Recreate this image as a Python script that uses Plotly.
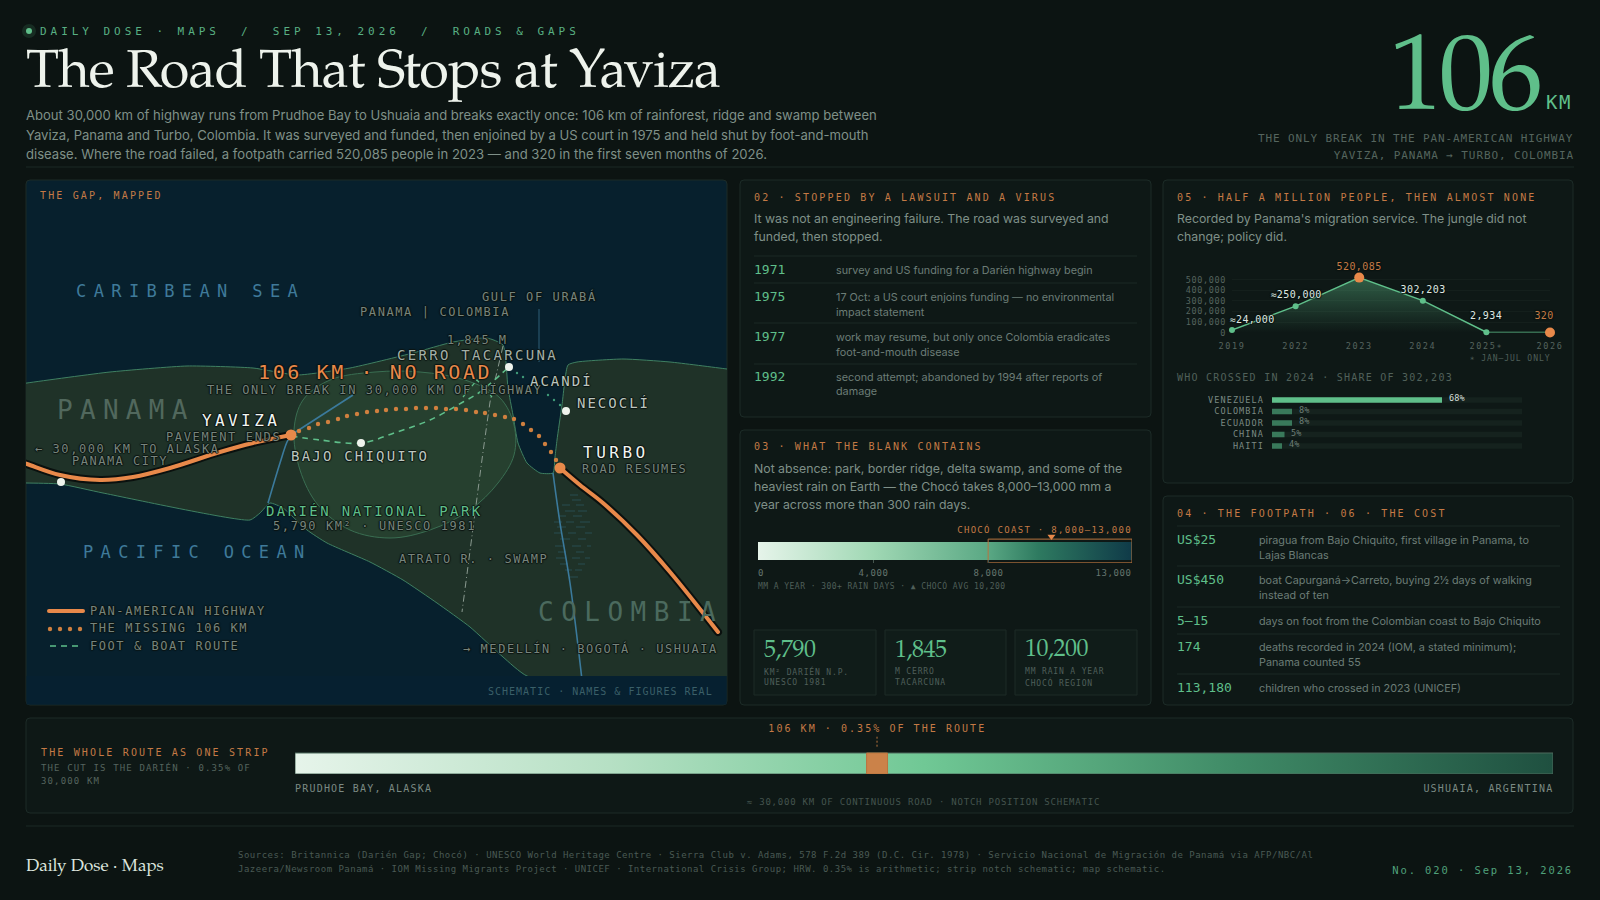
import json
import plotly.graph_objects as go

W, H = 1600, 900
MONO, SERIF, SANS = "DejaVu Sans Mono", "Palatino Linotype, Palatino, P052, TeX Gyre Pagella, URW Palladio L, Georgia, serif", "Inter"
BG, PANEL, EDGE, RULE = "#0c1412", "#0e1816", "#1c2b27", "#1a2824"
GREEN, ORANGE, DIMOR = "#5fbf8a", "#e8894a", "#c47a45"
OCEAN, LAND, PARK, COAST, RIVER = "#07202d", "#1f3228", "#26402f", "#3f8062", "#3b7a9c"
TXT, MUTED, DIM, FAINT = "#eef3ec", "#7f9088", "#6c7d76", "#4f5f59"

# ---------- data ----------
coast_x = [-30, 27, 110, 187, 253, 297, 350, 413, 453, 487, 503, 508, 513, 518, 527, 540, 553, 555, 557, 562, 568, 577, 623, 670, 727, 780,
           780, 527, 503, 470, 437, 403, 370, 327, 307, 283, 270, 260, 250, 103, 60, 27, -30]
coast_y = [392, 383, 372, 366, 368, 375, 368, 353, 342, 338, 345, 388, 415, 443, 463, 473, 473, 457, 440, 405, 365, 362, 359, 362, 369, 376,
           720, 676, 657, 627, 603, 580, 562, 543, 530, 508, 503, 513, 520, 493, 484, 483, 482]
park_x = [294, 303, 330, 375, 420, 465, 500, 514, 514, 498, 470, 430, 390, 350, 318, 300, 294]
park_y = [430, 400, 380, 372, 372, 380, 398, 425, 455, 483, 510, 530, 538, 530, 505, 470, 430]
highway_west_x = [10, 27, 60, 100, 133, 170, 220, 253, 291]
highway_west_y = [458, 464, 475, 480, 477, 468, 452, 443, 435]
highway_east_x = [560, 580, 603, 637, 670, 718]
highway_east_y = [468, 485, 503, 535, 572, 632]
missing_x = [299, 309, 318, 328, 338, 347, 357, 367, 377, 386, 396, 406, 416, 426, 436, 446, 456, 466, 476, 485, 495, 505, 514, 523, 531, 539, 545, 551, 556]
missing_y = [431, 428, 424, 422, 419, 416, 414, 412, 411, 410, 409, 409, 408, 408, 408, 409, 409, 410, 412, 413, 415, 417, 419, 424, 430, 436, 444, 452, 460]
route_x = [291, 320, 361, 397, 430, 463, 480, 500, 509]
route_y = [436, 440, 443, 432, 420, 402, 392, 375, 367]
peak_x = [463, 477, 492]
peak_y = [397, 380, 397]
boat_x = [509, 517, 523, 535, 548, 554, 560, 566]
boat_y = [367, 373, 377, 386, 395, 400, 405, 411]
border_x = [503, 498, 490, 483, 477, 470, 462]
border_y = [346, 367, 402, 452, 497, 547, 612]
gulf_x = [539, 539]
gulf_y = [309, 362]
river_n_x = [291, 353]
river_n_y = [435, 395]
river_s_x = [291, 287, 280, 268]
river_s_y = [435, 442, 463, 503]
atrato_x = [553, 560, 570, 582]
atrato_y = [473, 523, 583, 680]
swamp_start = [570, 572, 562, 576, 565, 578, 558, 573, 554, 566, 580, 557, 576, 554, 568, 585, 560, 578, 555, 572, 587, 558, 576, 556, 572, 585, 560, 578, 565, 575, 570]
swamp_end = [578, 581, 570, 584, 575, 587, 566, 582, 562, 574, 590, 566, 585, 562, 576, 592, 570, 586, 563, 581, 591, 566, 584, 565, 580, 590, 568, 585, 572, 582, 578]
swamp_row = [495, 500, 505, 505, 511, 511, 516, 516, 522, 522, 522, 527, 527, 533, 533, 533, 539, 539, 546, 546, 546, 552, 552, 558, 558, 558, 564, 564, 570, 570, 577]
towns_x = [61, 361, 509, 566]
towns_y = [482, 443, 367, 411]
ends_x = [291, 560]
ends_y = [435, 468]

rain_ticks = [0, 4000, 8000, 13000]
rain_tick_labels = ["0", "4,000", "8,000", "13,000"]
choco_range = [8000, 13000]
choco_avg = 10200

years = ["2019", "2022", "2023", "2024", "2025∗", "2026"]
crossings = [24000, 250000, 520085, 302203, 2934, 320]
crossing_labels = ["≈24,000", "≈250,000", "520,085", "302,203", "2,934", "320"]
crossing_ticks = [0, 100000, 200000, 300000, 400000, 500000]
crossing_ticktext = ["0", "100,000", "200,000", "300,000", "400,000", "500,000"]

nationalities = ["VENEZUELA", "COLOMBIA", "ECUADOR", "CHINA", "HAITI"]
shares = [68, 8, 8, 5, 4]

route_total_km = 30000
notch_km = [13630, 14130]

timeline_years = ["1971", "1975", "1977", "1992"]
timeline_text = [["survey and US funding for a Darién highway begin"],
                 ["17 Oct: a US court enjoins funding — no environmental", "impact statement"],
                 ["work may resume, but only once Colombia eradicates", "foot-and-mouth disease"],
                 ["second attempt; abandoned by 1994 after reports of", "damage"]]
cost_values = ["US$25", "US$450", "5–15", "174", "113,180"]
cost_text = [["piragua from Bajo Chiquito, first village in Panama, to", "Lajas Blancas"],
             ["boat Capurganá→Carreto, buying 2½ days of walking", "instead of ten"],
             ["days on foot from the Colombian coast to Bajo Chiquito"],
             ["deaths recorded in 2024 (IOM, a stated minimum);", "Panama counted 55"],
             ["children who crossed in 2023 (UNICEF)"]]
stat_values = ["5,790", "1,845", "10,200"]
stat_labels = [["KM² DARIÉN N.P.", "UNESCO 1981"], ["M CERRO", "TACARCUNA"], ["MM RAIN A YEAR", "CHOCÓ REGION"]]

# ---------- helpers ----------
anns, spacing, shapes, traces, axes = [], [], [], [], {}
SHADOW = "1px 0 1px #0c1412,-1px 0 1px #0c1412,0 1px 1px #0c1412,0 -1px 1px #0c1412"


def T(px, py, s, size, color, font=MONO, anchor="left", ls=0, halo=False, xref="paper"):
    f = dict(family=font, size=size, color=color)
    if halo:
        f["shadow"] = SHADOW
    anns.append(dict(xref=xref, yref="paper", x=px / W if xref == "paper" else px, y=1 - py / H, text=s,
                     showarrow=False, xanchor=anchor, yanchor="middle", align=anchor, font=f,
                     borderpad=0, borderwidth=0))
    spacing.append(ls)


def panel(x0, y0, x1, y1, fill=PANEL, edge=EDGE, r=4):
    fx, fy = (lambda v: v / W), (lambda v: 1 - v / H)
    p = (f"M{fx(x0+r)},{fy(y0)} L{fx(x1-r)},{fy(y0)} Q{fx(x1)},{fy(y0)} {fx(x1)},{fy(y0+r)} "
         f"L{fx(x1)},{fy(y1-r)} Q{fx(x1)},{fy(y1)} {fx(x1-r)},{fy(y1)} L{fx(x0+r)},{fy(y1)} "
         f"Q{fx(x0)},{fy(y1)} {fx(x0)},{fy(y1-r)} L{fx(x0)},{fy(y0+r)} Q{fx(x0)},{fy(y0)} {fx(x0+r)},{fy(y0)} Z")
    shapes.append(dict(type="path", path=p, xref="paper", yref="paper", fillcolor=fill,
                       line=dict(color=edge, width=1), layer="below"))


def hr(x0, x1, y, color=RULE):
    shapes.append(dict(type="line", xref="paper", yref="paper", x0=x0 / W, x1=x1 / W, y0=1 - y / H, y1=1 - y / H,
                       line=dict(color=color, width=1), layer="below"))


def add_axes(n, x0, x1, y0, y1, xr, yr, xopts=None, yopts=None):
    base = dict(showgrid=False, zeroline=False, showline=False, showticklabels=False, ticks="", fixedrange=True, automargin=False)
    sfx = "" if n == 1 else str(n)
    ax = dict(base, domain=[x0 / W, x1 / W], range=xr, anchor="y" + sfx)
    ay = dict(base, domain=[1 - y1 / H, 1 - y0 / H], range=yr, anchor="x" + sfx)
    ax.update(xopts or {})
    ay.update(yopts or {})
    axes["xaxis" + sfx], axes["yaxis" + sfx] = ax, ay
    return "x" + sfx, "y" + sfx


def S(x, y, ax, color=None, width=1, dash=None, mode="lines", shape="linear", smooth=None, **kw):
    line = dict(color=color, width=width, shape=shape)
    if dash:
        line["dash"] = dash
    if smooth is not None:
        line["smoothing"] = smooth
    traces.append(go.Scatter(x=x, y=y, xaxis=ax[0], yaxis=ax[1], mode=mode, line=line, hoverinfo="skip", showlegend=False, **kw))


# ---------- panels ----------
hr(26, 1574, 167)
hr(26, 1574, 826)
panel(26, 180, 727, 705, fill=OCEAN)
panel(740, 180, 1151, 417)
panel(740, 430, 1151, 705)
panel(1163, 180, 1573, 483)
panel(1163, 496, 1573, 705)
panel(26, 718, 1573, 813)
shapes.append(dict(type="rect", xref="paper", yref="paper", x0=26.5 / W, x1=726.5 / W, y0=1 - 704.5 / H, y1=1 - 676 / H,
                   fillcolor="#062030", line=dict(width=0), layer="below"))

# ---------- header ----------
shapes.append(dict(type="circle", xref="paper", yref="paper", x0=22 / W, x1=36 / W, y0=1 - 38 / H, y1=1 - 24 / H,
                   fillcolor="rgba(95,191,138,0.14)", line=dict(width=0), layer="below"))
shapes.append(dict(type="circle", xref="paper", yref="paper", x0=26 / W, x1=32 / W, y0=1 - 34 / H, y1=1 - 28 / H,
                   fillcolor=GREEN, line=dict(width=0), layer="below"))
T(40, 31, "DAILY DOSE · MAPS\u00a0\u00a0/\u00a0\u00a0SEP 13, 2026\u00a0\u00a0/\u00a0\u00a0ROADS & GAPS", 11, "#58b083", ls=3.96)
T(26, 74.5, "The Road That Stops at Yaviza", 54, TXT, SERIF, ls=-0.95)
for i, s, y in zip(range(3), ["About 30,000 km of highway runs from Prudhoe Bay to Ushuaia and breaks exactly once: 106 km of rainforest, ridge and swamp between",
                       "Yaviza, Panama and Turbo, Colombia. It was surveyed and funded, then enjoined by a US court in 1975 and held shut by foot-and-mouth",
                       "disease. Where the road failed, a footpath carried 520,085 people in 2023 — and 320 in the first seven months of 2026."], [115.5, 134.5, 154]):
    T(26, y, s, 13.08, MUTED, SANS)
T(1539, 84.5, "106", 108, GREEN, SERIF, "right", ls=-4)
T(1546, 102, "KM", 19, GREEN, MONO, ls=1.5)
T(1574, 138, "THE ONLY BREAK IN THE PAN-AMERICAN HIGHWAY", 11, "#55655e", anchor="right", ls=0.88)
T(1574, 155, "YAVIZA, PANAMA → TURBO, COLOMBIA", 11, "#55655e", anchor="right", ls=0.88)

# ---------- map ----------
mp = add_axes(1, 26, 727, 180, 676, [26, 727], [676, 180])
S(coast_x, coast_y, mp, COAST, 1, shape="spline", smooth=0.5, fill="toself", fillcolor=LAND)
S(park_x, park_y, mp, "#3a6e52", 1, shape="spline", smooth=1, fill="toself", fillcolor=PARK)
sw_x, sw_y = [], []
for a, b, r in zip(swamp_start, swamp_end, swamp_row):
    sw_x += [a, b, None]
    sw_y += [r, r, None]
S(sw_x, sw_y, mp, "rgba(59,122,156,0.36)", 1)
S(gulf_x, gulf_y, mp, "#2f5f78", 1)
S(river_n_x, river_n_y, mp, RIVER, 1.6)
S(river_s_x, river_s_y, mp, RIVER, 1.6, shape="spline")
S(atrato_x, atrato_y, mp, RIVER, 1.6, shape="spline")
S(border_x, border_y, mp, "#8a9a90", 1, dash="7px 3px 1px 3px")
S(peak_x, peak_y, mp, GREEN, 1.2, dash="4px 3px")
S(route_x, route_y, mp, GREEN, 1.6, dash="6px 5px", shape="spline")
S(boat_x, boat_y, mp, mode="markers", marker=dict(size=2.4, color="#3f9a78"))
S(missing_x, missing_y, mp, mode="markers", marker=dict(size=4.4, color="#d0803f"))
S(highway_west_x, highway_west_y, mp, "#0a100e", 8, shape="spline")
S(highway_east_x, highway_east_y, mp, "#0a100e", 8, shape="spline")
S(highway_west_x, highway_west_y, mp, ORANGE, 4, shape="spline")
S(highway_east_x, highway_east_y, mp, ORANGE, 4, shape="spline")
S(towns_x, towns_y, mp, mode="markers", marker=dict(size=8, color="#eef3ec"))
S(ends_x, ends_y, mp, mode="markers", marker=dict(size=11, color=ORANGE))
S([49, 83], [611, 611], mp, ORANGE, 4)
S([50, 60, 70, 80], [629, 629, 629, 629], mp, mode="markers", marker=dict(size=4.4, color="#d0803f"))
S([50, 82], [646, 646], mp, GREEN, 1.6, dash="6px 5px")

T(40, 196, "THE GAP, MAPPED", 10, DIMOR, ls=2.15)
T(76, 291, "CARIBBEAN SEA", 17, "#3f7a9a", ls=7.4)
T(83, 552, "PACIFIC OCEAN", 17, "#3f7a9a", ls=7.35)
T(57, 410, "PANAMA", 26, "#51685d", ls=7.3)
T(538, 612, "COLOMBIA", 26, "#4b6a5e", ls=7.5)
LBL = "#77847c"
T(482, 296, "GULF OF URABÁ", 12, LBL, ls=1.6, halo=True)
T(360, 312, "PANAMA | COLOMBIA", 12, LBL, ls=1.6, halo=True)
T(447, 340, "1,845 M", 12, LBL, ls=1.4, halo=True)
T(397, 355, "CERRO TACARCUNA", 14, "#a3afa7", ls=2.3, halo=True)
T(258, 372, "106 KM · NO ROAD", 20, ORANGE, ls=2.6, halo=True)
T(207, 390, "THE ONLY BREAK IN 30,000 KM OF HIGHWAY", 12, LBL, ls=1.6, halo=True)
T(530, 381, "ACANDÍ", 14, "#bcc6bf", ls=2, halo=True)
T(577, 403, "NECOCLÍ", 14, "#bcc6bf", ls=2, halo=True)
T(202, 420, "YAVIZA", 16, "#f2f6f1", ls=3.4, halo=True)
T(166, 437, "PAVEMENT ENDS", 12, LBL, ls=1.65, halo=True)
T(35, 449, "← 30,000 KM TO ALASKA", 12, LBL, ls=1.56, halo=True)
T(72, 461, "PANAMA CITY", 12, LBL, ls=1.5, halo=True)
T(291, 456, "BAJO CHIQUITO", 14, "#bcc6bf", ls=2.2, halo=True)
T(583, 453, "TURBO", 16, "#f2f6f1", ls=3.5, halo=True)
T(582, 469, "ROAD RESUMES", 12, LBL, ls=1.55, halo=True)
T(266, 511, "DARIÉN NATIONAL PARK", 14, GREEN, ls=2.4, halo=True)
T(273, 526, "5,790 KM² · UNESCO 1981", 12, LBL, ls=1.6, halo=True)
T(399, 558.5, "ATRATO R. · SWAMP", 12, LBL, ls=1.56, halo=True)
T(463, 648, "→ MEDELLÍN · BOGOTÁ · USHUAIA", 12, LBL, ls=1.56, halo=True)
T(90, 611, "PAN-AMERICAN HIGHWAY", 12, LBL, ls=1.56, halo=True)
T(90, 628, "THE MISSING 106 KM", 12, LBL, ls=1.56, halo=True)
T(90, 646, "FOOT & BOAT ROUTE", 12, LBL, ls=1.56, halo=True)
T(713, 691, "SCHEMATIC · NAMES & FIGURES REAL", 10, "#3a5f68", anchor="right", ls=1)

# ---------- panel 02 ----------
T(754, 197, "02 · STOPPED BY A LAWSUIT AND A VIRUS", 10, DIMOR, ls=2.15)
T(754, 218.5, "It was not an engineering failure. The road was surveyed and", 12.3, MUTED, SANS)
T(754, 237, "funded, then stopped.", 12.3, MUTED, SANS)
for y in [256, 283, 323, 364]:
    hr(754, 1137, y)
row_y = [270, 297, 337, 377]
for yr_, lines, y in zip(timeline_years, timeline_text, row_y):
    T(754, y - 0.5, yr_, 13, GREEN)
    for j, s in enumerate(lines):
        T(836, y + j * 15, s, 10.8, DIM, SANS)

# ---------- panel 03 ----------
T(754, 447, "03 · WHAT THE BLANK CONTAINS", 10, DIMOR, ls=2.15)
for i, s in enumerate(["Not absence: park, border ridge, delta swamp, and some of the",
                       "heaviest rain on Earth — the Chocó takes 8,000–13,000 mm a",
                       "year across more than 300 rain days."]):
    T(754, 468 + i * 18, s, 12.3, MUTED, SANS)
T(1132, 529, "CHOCÓ COAST · 8,000–13,000", 9, DIMOR, anchor="right", ls=1.3)
rn = add_axes(2, 758, 1132, 533, 563, [0, rain_ticks[-1]], [-0.167, 1.5],
              xopts=dict(ticks="inside", ticklen=3, tickwidth=1, tickcolor="#46564f", tickvals=rain_ticks[:-1]))
S([0, rain_ticks[-1], rain_ticks[-1], 0, 0], [0, 0, 1, 1, 0], rn, "rgba(0,0,0,0)", 0, fill="toself",
  fillgradient=dict(type="horizontal", colorscale=[[0, "#e6f4ea"], [0.3077, "#a0d8b4"], [0.6154, "#5aa884"], [0.75, "#2e7a60"], [1, "#0f3a48"]]))
S([choco_range[0], choco_range[1], choco_range[1], choco_range[0], choco_range[0]], [-0.16, -0.16, 1.16, 1.16, -0.16], rn, "#b9743f", 1)
S([choco_avg], [1.3], rn, mode="markers", cliponaxis=False, marker=dict(symbol="triangle-down", size=7, color=ORANGE))
for v, lab, anc in zip(rain_ticks, rain_tick_labels, ["left", "center", "center", "right"]):
    T(v, 573, lab, 9, "#65756e", anchor=anc, ls=0.6, xref="x2")
T(758, 585, "MM A YEAR · 300+ RAIN DAYS · ▲ CHOCÓ AVG 10,200", 8, FAINT, ls=0.45)
for x0, x1, val, labs in zip([754, 885, 1015], [876, 1006, 1137], stat_values, stat_labels):
    panel(x0, 630, x1, 695, fill="#101c19", r=0)
    T(x0 + 10, 651, val, 24, GREEN, SERIF, ls=-0.5)
    T(x0 + 10, 671, labs[0], 8, FAINT, ls=0.85)
    T(x0 + 10, 682, labs[1], 8, FAINT, ls=0.85)

# ---------- panel 05 ----------
T(1177, 197, "05 · HALF A MILLION PEOPLE, THEN ALMOST NONE", 10, DIMOR, ls=2.15)
T(1177, 218.5, "Recorded by Panama's migration service. The jungle did not", 12.3, MUTED, SANS)
T(1177, 237, "change; policy did.", 12.3, MUTED, SANS)
ch = add_axes(3, 1232, 1550, 277.6, 332.6, [0, 5], [0, 520085],
              xopts=dict(type="category", categoryorder="array", categoryarray=years, showticklabels=True,
                         tickfont=dict(family=MONO, size=8.5, color="#55645e"), ticklabelstandoff=7),
              yopts=dict(showgrid=True, gridcolor="#141f1c", gridwidth=1, tickvals=crossing_ticks, ticktext=crossing_ticktext,
                         showticklabels=True, tickfont=dict(family=MONO, size=8.5, color="#55645e"), ticklabelstandoff=5))
S(years, crossings, ch, GREEN, 1.5, mode="lines+markers", marker=dict(size=6, color=GREEN), fill="tozeroy", cliponaxis=False,
  fillgradient=dict(type="vertical", colorscale=[[0, "rgba(95,191,138,0)"], [1, "rgba(95,191,138,0.42)"]]))
hi = [2, 5]
S([years[i] for i in hi], [crossings[i] for i in hi], ch, mode="markers", cliponaxis=False, marker=dict(size=10, color=ORANGE))
lab_col = ["#dfe8e2", "#dfe8e2", DIMOR, "#dfe8e2", "#dfe8e2", DIMOR]
lab_y = [319, 295, 266, 289, 315, 315]
lab_dx = [0.315, 0, 0, 0, 0, -0.1]
for i, (lab, col, y) in enumerate(zip(crossing_labels, lab_col, lab_y)):
    T(i + lab_dx[i], y, lab, 10, col, anchor="center", ls=0.4, halo=True, xref="x3")
T(1551, 359, "∗ JAN–JUL ONLY", 8, FAINT, anchor="right", ls=0.95)
T(1177, 378, "WHO CROSSED IN 2024 · SHARE OF 302,203", 10, "#51615a", ls=1.24)
br = add_axes(4, 1272, 1522, 394.25, 451.75, [0, 100], [4.5, -0.5],
              yopts=dict(type="category", categoryorder="array", categoryarray=nationalities, showticklabels=True,
                         tickfont=dict(family=MONO, size=8.5, color="#7b8a83"), ticklabelstandoff=7))
traces.append(go.Bar(y=nationalities, x=[100] * len(shares), orientation="h", xaxis=br[0], yaxis=br[1], width=0.48,
                     marker=dict(color="#15221e", line=dict(width=0)), hoverinfo="skip", showlegend=False))
traces.append(go.Bar(y=nationalities, x=shares, orientation="h", xaxis=br[0], yaxis=br[1], width=0.48,
                     marker=dict(color=[GREEN] + ["#39795b"] * (len(shares) - 1), line=dict(width=0)), hoverinfo="skip", showlegend=False))
for i, v in enumerate(shares):
    T(v + 2.6, 398.5 + i * 11.5, f"{v}%", 8.5, "#d5dfd9" if i == 0 else "#6e7f77", ls=0.1, xref="x4")

# ---------- panel 04 ----------
T(1177, 513, "04 · THE FOOTPATH · 06 · THE COST", 10, DIMOR, ls=2.15)
for y in [526, 566, 607, 634, 674]:
    hr(1177, 1560, y)
for v, lines, y in zip(cost_values, cost_text, [540, 580, 621, 647, 688]):
    T(1177, y - 1, v, 13, GREEN)
    for j, s in enumerate(lines):
        T(1259, y + j * 15, s, 10.8, DIM, SANS)

# ---------- route strip ----------
T(41, 752, "THE WHOLE ROUTE AS ONE STRIP", 10, DIMOR, ls=2.15)
T(41, 767, "THE CUT IS THE DARIÉN · 0.35% OF", 9, "#55645e", ls=1.14)
T(41, 781, "30,000 KM", 9, "#55645e", ls=1.14)
st = add_axes(5, 295, 1553, 733, 774, [0, route_total_km], [0, 1.952])
S([0, route_total_km, route_total_km, 0, 0], [0, 0, 1, 1, 0], st, "#4c6a5c", 1, fill="toself",
  fillgradient=dict(type="horizontal", colorscale=[[0, "#e6f4ea"], [0.25, "#b6e0c4"], [0.5, "#70c895"], [0.75, "#3f8a66"], [1, "#1f5040"]]))
S([notch_km[0], notch_km[1], notch_km[1], notch_km[0], notch_km[0]], [0, 0, 1, 1, 0], st, "#b9743f", 1, fill="toself", fillcolor="#cb8249")
notch_mid = sum(notch_km) / 2
S([notch_mid, notch_mid], [1.3, 1.8], st, "#b9743f", 1, dash="2px 2px")
T(notch_mid, 728, "106 KM · 0.35% OF THE ROUTE", 10, DIMOR, anchor="center", ls=2.05, xref="x5")
T(295, 788, "PRUDHOE BAY, ALASKA", 10, "#7b8a83", ls=1.2)
T(1553, 788, "USHUAIA, ARGENTINA", 10, "#7b8a83", anchor="right", ls=1.2)
T(923, 802, "≈ 30,000 KM OF CONTINUOUS ROAD · NOTCH POSITION SCHEMATIC", 9, "#44544e", anchor="center", ls=0.78)

# ---------- footer ----------
T(26, 867, "Daily Dose · Maps", 17, "#dbe4de", SERIF)
T(238, 855, "Sources: Britannica (Darién Gap; Chocó) · UNESCO World Heritage Centre · Sierra Club v. Adams, 578 F.2d 389 (D.C. Cir. 1978) · Servicio Nacional de Migración de Panamá via AFP/NBC/Al", 9, "#4a5a54", ls=0.49)
T(238, 869, "Jazeera/Newsroom Panamá · IOM Missing Migrants Project · UNICEF · International Crisis Group; HRW. 0.35% is arithmetic; strip notch schematic; map schematic.", 9, "#4a5a54", ls=0.49)
T(1573, 870, "No. 020 · Sep 13, 2026", 10.5, "#4fa07a", anchor="right", ls=1.9)

fig = go.Figure(data=traces)
fig.update_layout(width=W, height=H, margin=dict(l=0, r=0, t=0, b=0), paper_bgcolor=BG, plot_bgcolor="rgba(0,0,0,0)",
                  barmode="overlay", showlegend=False, annotations=anns, shapes=shapes, **axes)

post = """
document.documentElement.style.background = '%s';
document.body.style.margin = '0';
document.body.style.background = '%s';
var LS = %s;
document.querySelectorAll('g.annotation').forEach(function (g) {
  var i = +g.getAttribute('data-index');
  var t = g.querySelector('text');
  if (t && LS[i]) { t.style.letterSpacing = LS[i] + 'px'; }
});
document.querySelectorAll('.x3tick text').forEach(function (t) { t.style.letterSpacing = '1.6px'; });
document.querySelectorAll('.y3tick text').forEach(function (t) { t.style.letterSpacing = '0.65px'; });
document.querySelectorAll('.y4tick text').forEach(function (t) { t.style.letterSpacing = '1.1px'; });
document.querySelectorAll('.js-line').forEach(function (p) {
  if (parseFloat(p.style.strokeWidth) >= 4) { p.style.strokeLinecap = 'round'; }
});
""" % (BG, BG, json.dumps(spacing))

fig.write_html("out.html", post_script=post, config={"displayModeBar": False, "staticPlot": True})
